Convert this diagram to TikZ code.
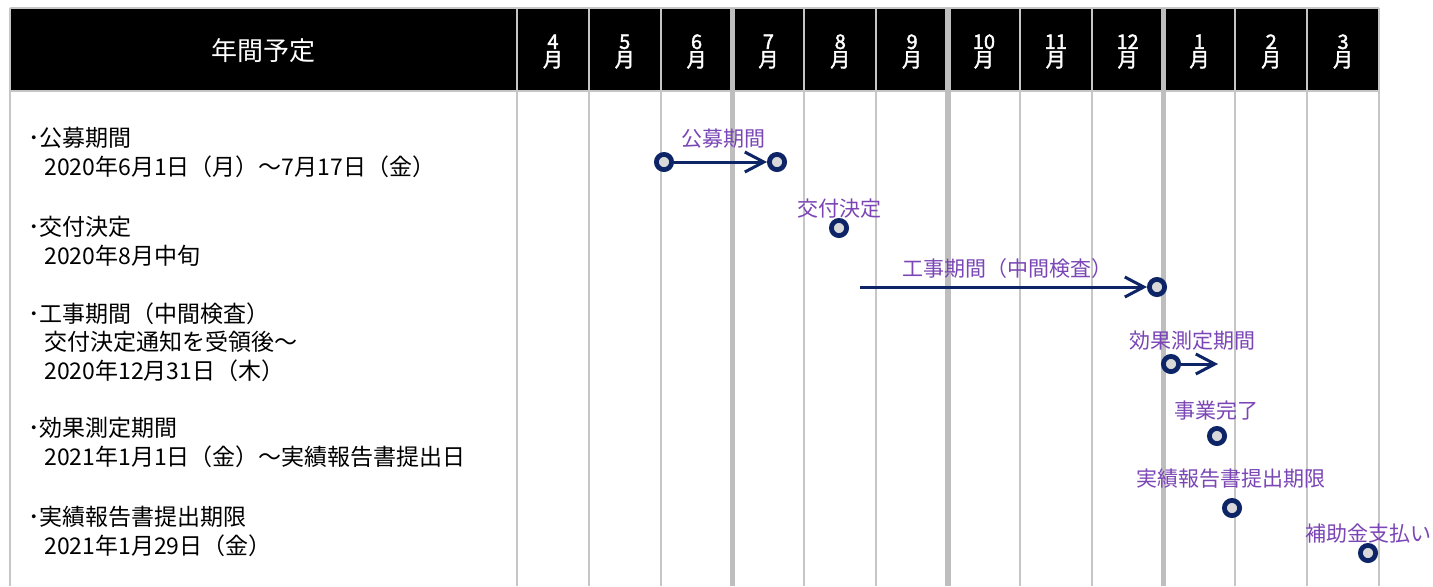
\documentclass[tikz,border=0pt]{standalone}
\usepackage{fontspec}
\setmainfont{Noto Sans CJK JP}
\newfontfamily\jpbold[FakeBold=2]{Noto Sans CJK JP}
\usetikzlibrary{arrows.meta}
\definecolor{navy}{HTML}{0D2466}
\definecolor{lbl}{HTML}{7A45B5}
\definecolor{gridc}{HTML}{C6C6C6}
\definecolor{gridq}{HTML}{BEBEBE}
\definecolor{ringfill}{HTML}{D9D9D9}
\begin{document}
\begin{tikzpicture}[x=0.5pt,y=-0.5pt,
  thinline/.style={draw=gridc, line width=1pt},
  quarterline/.style={draw=gridq, line width=2.6pt},
  milestone/.style={circle, draw=navy, fill=ringfill, line width=2.4pt, minimum size=7.6pt, inner sep=0pt},
  evlabel/.style={text=lbl, inner sep=0pt, font=\fontsize{10.5}{12}\selectfont},
  flow/.style={draw=navy, line width=1.5pt, -{Straight Barb[length=9.5pt,width=10pt]}},
  monthlbl/.style={text=white, align=center, inner sep=0pt, font=\jpbold\fontsize{10}{9}\selectfont},
  headtxt/.style={text=white, inner sep=0pt, font=\fontsize{13}{14}\selectfont},
  itemtxt/.style={anchor=west, align=left, inner sep=0pt, font=\fontsize{11.5}{14.25}\selectfont}]
\useasboundingbox (0,0) rectangle (1433,586);
% header band
\fill[black] (10,8) rectangle (1379,91);
% grid
\draw[thinline] (10,8) -- (1379,8);
\draw[thinline] (10,91) -- (1379,91);
\draw[thinline] (10,8) -- (10,586);
\foreach \i in {0,1,2,4,5,7,8,10,11,12}{
  \draw[thinline] ({517+71.833*\i},8) -- ({517+71.833*\i},586);
}
\foreach \i in {3,6,9}{
  \draw[quarterline] ({517+71.833*\i},8) -- ({517+71.833*\i},586);
}
% header texts
\node[headtxt] (title) at (263.5,51) {年間予定};
\foreach \m [count=\i from 0] in {4,5,6,7,8,9,10,11,12,1,2,3}{
  \node[monthlbl] (m\i) at ({517+71.833*(\i+0.5)},51.5) {\m\\月};
}
% left list
\node[itemtxt] (it1) at (28,152.5) {･公募期間\\\hspace*{8pt}2020年6月1日（月）～7月17日（金）};
\node[itemtxt] (it2) at (28,241.5) {･交付決定\\\hspace*{8pt}2020年8月中旬};
\node[itemtxt] (it3) at (28,342) {･工事期間（中間検査）\\\hspace*{8pt}交付決定通知を受領後～\\\hspace*{8pt}2020年12月31日（木）};
\node[itemtxt] (it4) at (28,442.5) {･効果測定期間\\\hspace*{8pt}2021年1月1日（金）～実績報告書提出日};
\node[itemtxt] (it5) at (28,531.5) {･実績報告書提出期限\\\hspace*{8pt}2021年1月29日（金）};
% timeline labels
\node[evlabel] (l1) at (723,139) {公募期間};
\node[evlabel] (l2) at (839,209) {交付決定};
\node[evlabel] (l3) at (1007,269) {工事期間（中間検査）};
\node[evlabel] (l4) at (1192,341) {効果測定期間};
\node[evlabel] (l5) at (1216,411) {事業完了};
\node[evlabel] (l6) at (1231,479) {実績報告書提出期限};
\node[evlabel] (l7) at (1368,534) {補助金支払い};
% milestones
\node[milestone] (s1) at (664,162) {};
\node[milestone] (e1) at (777,162) {};
\node[milestone] (c2) at (839,228) {};
\coordinate (k3) at (860,287);
\node[milestone] (c3) at (1157,287) {};
\node[milestone] (c4) at (1171,364) {};
\coordinate (e4) at (1218,364);
\node[milestone] (c5) at (1217,436) {};
\node[milestone] (c6) at (1232,508) {};
\node[milestone] (c7) at (1368,553) {};
% arrows
\draw[flow] (s1) -- (e1);
\draw[flow] (k3) -- (c3);
\draw[flow] (c4) -- (e4);
\end{tikzpicture}
\end{document}
